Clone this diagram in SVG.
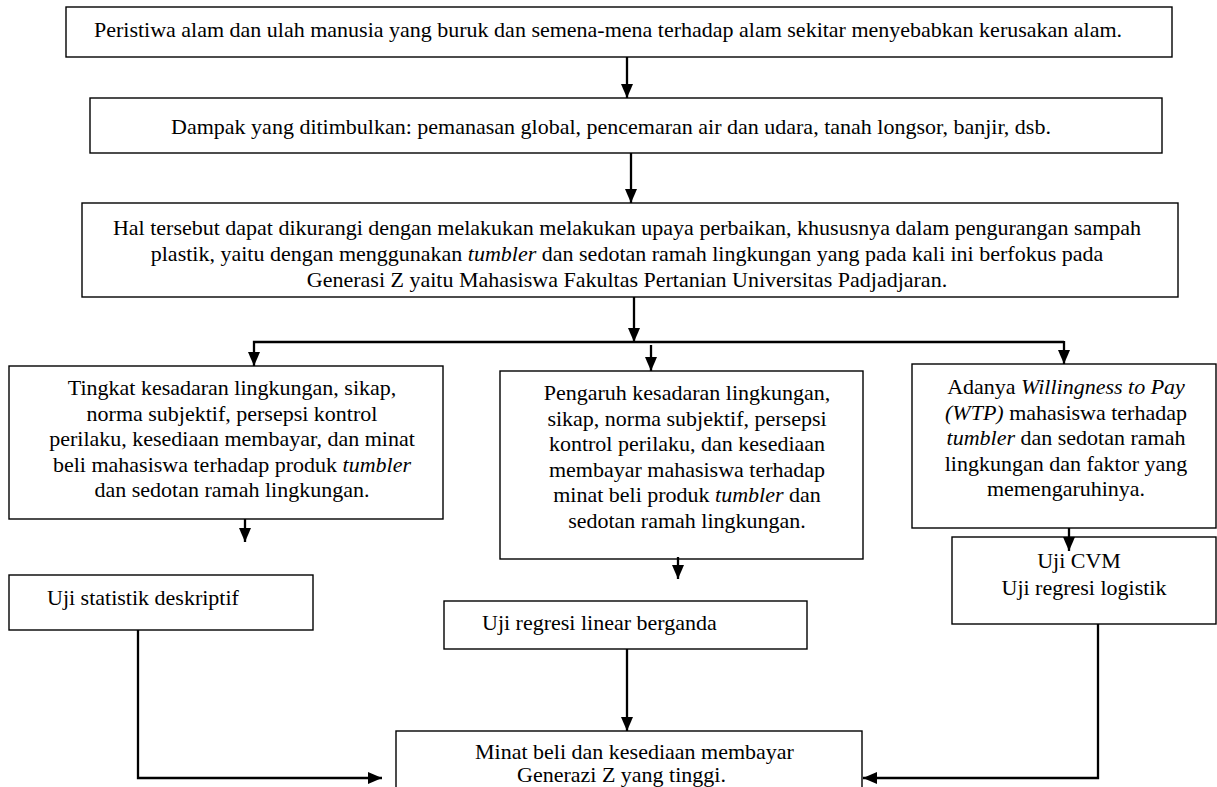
<svg xmlns="http://www.w3.org/2000/svg" width="1217" height="787" viewBox="0 0 1217 787">
<style>
.box{fill:#fff;stroke:#000;stroke-width:1.4}
.t{font-family:"Liberation Serif","Times New Roman",serif;font-size:22px;fill:#000}
.m{text-anchor:middle}
.i{font-style:italic}
.c{fill:none;stroke:#000;stroke-width:2.3}
</style>
<defs>
<marker id="ah" markerUnits="userSpaceOnUse" viewBox="0 0 14 12" refX="14" refY="6" markerWidth="14" markerHeight="12" orient="auto">
<path d="M0,0 L14,6 L0,12 z" fill="#000"/>
</marker>
</defs>
<rect width="1217" height="787" fill="#fff"/>
<g id="n1"><rect class="box" x="66" y="7" width="1106" height="50"/>
<text class="t m" x="608" y="37">Peristiwa alam dan ulah manusia yang buruk dan semena-mena terhadap alam sekitar menyebabkan kerusakan alam.</text></g>
<g id="n2"><rect class="box" x="90" y="98" width="1072" height="55"/>
<text class="t m" x="611" y="134">Dampak yang ditimbulkan: pemanasan global, pencemaran air dan udara, tanah longsor, banjir, dsb.</text></g>
<g id="n3"><rect class="box" x="82" y="203" width="1096" height="94"/>
<text class="t m" x="627" y="235">Hal tersebut dapat dikurangi dengan melakukan melakukan upaya perbaikan, khususnya dalam pengurangan sampah</text>
<text class="t m" x="627" y="261">plastik, yaitu dengan menggunakan <tspan class="i">tumbler</tspan> dan sedotan ramah lingkungan yang pada kali ini berfokus pada</text>
<text class="t m" x="627" y="287">Generasi Z yaitu Mahasiswa Fakultas Pertanian Universitas Padjadjaran.</text></g>
<g id="n4"><rect class="box" x="9" y="366" width="434" height="153"/>
<text class="t m" x="232" y="395">Tingkat kesadaran lingkungan, sikap,</text>
<text class="t m" x="232" y="420.5">norma subjektif, persepsi kontrol</text>
<text class="t m" x="232" y="446">perilaku, kesediaan membayar, dan minat</text>
<text class="t m" x="232" y="471.5">beli mahasiswa terhadap produk <tspan class="i">tumbler</tspan></text>
<text class="t m" x="232" y="497">dan sedotan ramah lingkungan.</text></g>
<g id="n5"><rect class="box" x="500" y="371" width="363" height="188"/>
<text class="t m" x="687" y="400">Pengaruh kesadaran lingkungan,</text>
<text class="t m" x="687" y="425.5">sikap, norma subjektif, persepsi</text>
<text class="t m" x="687" y="451">kontrol perilaku, dan kesediaan</text>
<text class="t m" x="687" y="476.5">membayar mahasiswa terhadap</text>
<text class="t m" x="687" y="502">minat beli produk <tspan class="i">tumbler</tspan> dan</text>
<text class="t m" x="687" y="527.5">sedotan ramah lingkungan.</text></g>
<g id="n6"><rect class="box" x="912" y="364" width="304" height="164"/>
<text class="t m" x="1066" y="394">Adanya <tspan class="i">Willingness to Pay</tspan></text>
<text class="t m" x="1066" y="419.5"><tspan class="i">(WTP)</tspan> mahasiswa terhadap</text>
<text class="t m" x="1066" y="445"><tspan class="i">tumbler</tspan> dan sedotan ramah</text>
<text class="t m" x="1066" y="470.5">lingkungan dan faktor yang</text>
<text class="t m" x="1066" y="496">memengaruhinya.</text></g>
<g id="n7"><rect class="box" x="9" y="575" width="304" height="55"/>
<text class="t" x="47" y="605">Uji statistik deskriptif</text></g>
<g id="n8"><rect class="box" x="444" y="601" width="363" height="48"/>
<text class="t" x="482" y="630">Uji regresi linear berganda</text></g>
<g id="n9"><rect class="box" x="952" y="537" width="264" height="87"/>
<text class="t m" x="1079" y="568">Uji CVM</text>
<text class="t m" x="1084" y="595">Uji regresi logistik</text></g>
<g id="n10"><rect class="box" x="396" y="731" width="466" height="70"/>
<text class="t" x="475" y="759">Minat beli dan kesediaan membayar</text>
<text class="t" x="517" y="782">Generazi Z yang tinggi.</text></g>
<g id="connectors">
<path class="c" d="M627,57 V98" marker-end="url(#ah)"/>
<path class="c" d="M631,153 V203" marker-end="url(#ah)"/>
<path class="c" d="M634,297 V342" marker-end="url(#ah)"/>
<path class="c" d="M1064,342 H254 V366" marker-end="url(#ah)"/>
<path class="c" d="M1064,341 V364" marker-end="url(#ah)"/>
<path class="c" d="M651,345 V371" marker-end="url(#ah)"/>
<path class="c" d="M245,519 V542" marker-end="url(#ah)"/>
<path class="c" d="M678,557 V579" marker-end="url(#ah)"/>
<path class="c" d="M1069,528 V551" marker-end="url(#ah)"/>
<path class="c" d="M138,630 V778 H382" marker-end="url(#ah)"/>
<path class="c" d="M627,649 V731" marker-end="url(#ah)"/>
<path class="c" d="M1098,624 V778 H863" marker-end="url(#ah)"/>
</g>
</svg>
